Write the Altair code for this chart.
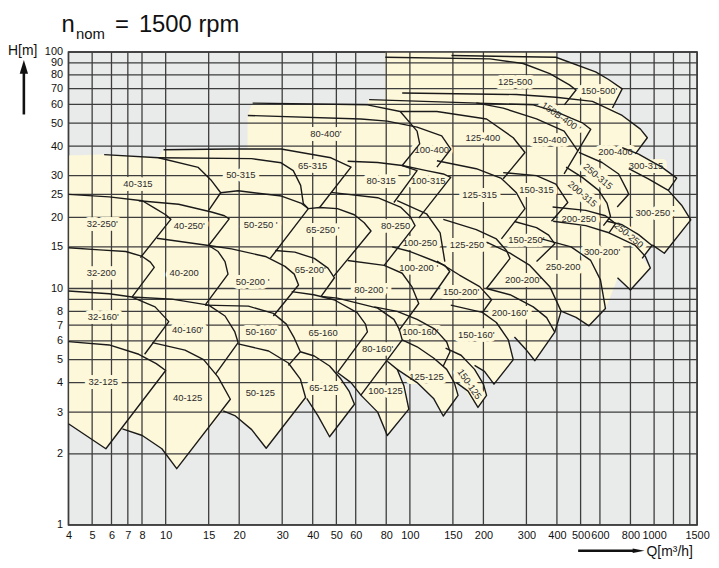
import altair as alt
import pandas as pd

FONT = "Liberation Sans"
GRAY = "#e9eaea"
YELLOW = "#fef8da"
GRID = "#3d3d3d"
INK = "#1a1a1a"

# ---------------- axes ----------------
x_ticks = [4, 5, 6, 7, 8, 10, 15, 20, 30, 40, 50, 60, 80, 100, 150, 200, 300, 400, 500, 600, 800, 1000, 1500]
x_grid = [4, 5, 6, 7, 8, 10, 15, 20, 30, 40, 50, 60, 80, 100, 150, 200, 300, 400, 500, 600, 800, 1000, 1200, 1400, 1500]
y_ticks = [1, 2, 3, 4, 5, 6, 7, 8, 10, 15, 20, 25, 30, 40, 50, 60, 70, 80, 90, 100]
y_grid = [1, 2, 3, 4, 5, 6, 7, 8, 9, 10, 15, 20, 25, 30, 40, 50, 60, 70, 80, 90, 100]

# ---------------- pump fields: (Q [m3/h], H [m]) along top curve -> apex -> tip (-> lower curve) ----------------
f_32_125 = [(4, 5.96), (5.87, 5.77), (7.76, 5.27), (9.15, 4.81), (10, 4.5), (5.69, 2.1), (4.72, 2.39), (4, 2.68)]
f_40_125 = [(8.82, 5.9), (12.0, 5.49), (14.3, 5.0), (16.4, 4.22), (18.4, 3.4), (11.1, 1.73), (9.65, 2.1), (8.02, 2.39), (6.65, 2.55)]
f_50_125 = [(19.8, 5.83), (26.4, 5.44), (31.8, 4.84), (35.6, 4.14), (37.4, 3.46), (25.8, 2.11), (22.5, 2.53), (19.3, 2.89), (17.2, 3.04)]
f_65_125 = [(35.6, 5.4), (40.6, 5.18), (46.9, 4.7), (52.2, 4.14), (56.5, 3.66), (59.3, 3.24), (46.9, 2.36), (42, 2.9), (37.8, 3.43)]
f_100_125 = [(80.8, 4.92), (88.7, 4.55), (94.5, 3.88), (99, 3.09), (80.8, 2.39), (73.8, 3.0), (63, 3.54)]
f_125_125 = [(93, 6.06), (107, 5.67), (125, 5.08), (141.5, 4.55), (152, 4.0), (157.5, 3.53), (137, 2.89), (125, 3.43), (107, 4.0), (88.7, 4.55)]
f_150_125 = [(140, 5.6), (162, 5.22), (184, 4.55), (200, 3.94), (206, 3.53), (190, 3.14), (173, 3.68), (155, 4.0)]

f_32_160 = [(4, 9.76), (5.87, 9.5), (7.28, 9.2), (9.05, 8.36), (10.3, 7.24), (8.2, 5.27)]
f_40_160 = [(7.28, 9.2), (10.6, 9.02), (15, 8.5), (17.5, 7.65), (19.2, 6.55), (19.8, 5.9), (16, 4.34)]
f_50_160 = [(14.5, 8.5), (21.8, 8.42), (27.6, 7.85), (31.2, 7.07), (33.6, 6.18), (35.6, 5.4), (31.8, 4.73)]
f_65_160 = [(32.8, 9.7), (40.4, 9.41), (48.9, 8.96), (60.8, 7.9), (65.8, 7.07), (67, 6.55), (50.5, 4.41)]
f_80_160 = [(43.3, 9.26), (50.5, 9.1), (73.8, 8.26), (86, 7.4), (90.4, 6.73), (93, 6.06), (63, 3.54), (57.4, 4.0), (50.5, 4.41)]
f_100_160 = [(71.5, 8.36), (88.7, 8.0), (107, 7.4), (126.6, 6.73), (141.5, 5.94), (146, 5.4), (137, 4.7)]
f_150_160 = [(147, 8.5), (198, 7.92), (226, 7.18), (253, 6.06), (265, 5.0), (221, 3.94), (202, 4.46), (184, 4.73)]
f_200_160 = [(206, 10), (257, 9.41), (320, 8.36), (363, 7.53), (392, 6.54), (325, 4.95), (300, 5.49), (268, 6.24)]

f_32_200 = [(4, 14.86), (5.36, 14.57), (6.87, 14.33), (8.02, 13.66), (8.66, 12.92), (8.98, 12.28), (7.28, 9.2)]
f_40_200 = [(9.2, 16.3), (15, 15.2), (16.4, 14.33), (17.5, 13.0), (18, 11.5), (14.5, 8.5)]
f_50_200 = [(15, 15.2), (18.6, 14.7), (25.6, 13.66), (30.8, 12.4), (33.6, 11.5), (35, 10.35), (27.6, 7.65)]
f_65_200 = [(28.1, 14.47), (33.8, 14.24), (40.6, 13.4), (46.2, 12.2), (49.1, 11.1), (43.3, 9.26)]
f_80_200 = [(55.6, 13.14), (78.5, 12.52), (93, 11.6), (102, 10.15), (108.7, 8.64), (90.1, 6.63)]
f_100_200 = [(84.6, 15), (100.3, 14.33), (125, 13.1), (139, 12.52), (145.6, 11.8), (121, 8.96)]
f_150_200 = [(129, 13.05), (159.5, 11.4), (193, 10.18), (216, 8.96), (198, 7.9)]
f_200_200 = [(206, 15.7), (257, 14.1), (310, 12.52), (374, 10.18), (416, 8.02), (392, 6.54)]
f_250_200 = [(346, 16.2), (457, 15), (550, 13.14), (603, 10.88), (632, 8.23), (541, 6.95), (479, 7.55), (416, 8.02)]
f_300_200 = [(386, 19.25), (525, 18.45), (653, 17.2), (838, 15.2), (921, 13.66), (965, 12.2), (800, 9.86), (708, 11.1)]

f_32_250 = [(4, 25), (5.87, 24.4), (8.02, 23.5), (9.05, 21.8), (10, 20.5), (10.5, 19.6), (7.88, 13.5)]
f_40_250 = [(7.76, 23.5), (11.3, 22.7), (15.4, 21.05), (17.4, 20.3), (18.2, 19.7), (15, 15.2)]
f_50_250 = [(16.8, 25.4), (19.8, 25.9), (29.8, 24.6), (36, 22.9), (38.4, 21.75), (26.8, 13.4)]
f_65_250 = [(38.4, 21.75), (42.7, 22), (50.5, 21.75), (59.2, 20.5), (65, 18.96), (69.3, 17.5), (48.9, 11.3)]
f_80_250 = [(47.5, 25.5), (73.8, 24.2), (91.5, 22.1), (100.3, 20.15), (105, 18.45), (78.5, 12.52)]
f_100_250 = [(88.7, 23.5), (117, 20.7), (133, 17.2), (139, 13)]
f_125_250 = [(137, 19.6), (187, 17.75), (226, 16.2), (249, 14.43), (257, 13.4), (206, 10)]
f_150_250 = [(268, 19.2), (330, 18.1), (370, 16.8), (392, 15.44), (330, 13)]
f_200_250 = [(384, 22.1), (525, 21.4), (632, 20.3), (695, 18.8), (653, 17.2)]
f_250_250 = [(642, 19.25), (740, 18.6), (864, 16.9), (980, 15.2), (893, 13.4)]
f_300_250 = [(787, 32.1), (947, 29.1), (1143, 26), (1296, 22.5), (1413, 19.5), (1101, 14.1), (983, 15.3)]

f_40_315 = [(5.6, 36.8), (9.35, 35.7), (13.6, 32.5), (15.4, 28.6), (16.8, 25.4), (15, 21.4)]
f_50_315 = [(9.35, 35.7), (22.5, 35.4), (29.7, 34), (33.3, 31.5), (35.7, 27.3), (36.6, 22.9), (38.4, 21.75)]
f_65_315 = [(9.8, 38.6), (18.5, 38.9), (29.7, 38.9), (47.5, 35.7), (57.4, 32.6), (42.7, 22)]
f_80_315 = [(55.6, 34.5), (73.8, 34.1), (93, 33.1), (107, 31.5), (86, 23.1)]
f_100_315 = [(93, 33.1), (117, 31.5), (137, 30.5), (147, 29.5), (108.7, 19.85)]
f_125_315 = [(129, 34.7), (187, 32.1), (237, 29.2), (273, 25.4), (296, 21.75), (237, 16.2)]
f_150_315 = [(241, 30.9), (330, 30), (396, 27.6), (443, 23.1), (380, 19.25)]
f_200_315 = [(436, 32.6), (508, 29.5), (593, 26), (642, 22.9), (663, 20.15), (620, 18.45)]
f_250_315 = [(492, 37.6), (612, 34.1), (716, 30.5), (775, 26), (787, 25.05), (706, 22.1)]
f_300_315 = [(740, 39.4), (864, 37), (1075, 32.6), (1237, 29.3), (1143, 26)]

f_80_400 = [(22.7, 60.8), (67, 59.8), (91.3, 56), (107, 46.3), (109.7, 40.9), (93, 33.1)]
f_100_400 = [(21.7, 53.9), (63, 52.1), (80.8, 51), (107, 48.1), (135, 44.2), (147, 38.8), (129, 32.6)]
f_125_400 = [(91.3, 56), (129, 56), (206, 52.1), (265, 43.4), (296, 37.6), (241, 29.1)]
f_150_400 = [(187, 60.9), (241, 57.9), (330, 52.1), (428, 46.3), (487, 38.2), (428, 30.5)]
f_150b_400 = [(68.1, 62.9), (320, 59.8), (396, 56), (457, 52.5), (508, 50.2), (550, 47.1), (487, 38.2)]
f_200_400 = [(93, 67.1), (273, 66.1), (396, 64.4), (559, 61.8), (740, 53.9), (879, 47.2), (938, 43.4), (838, 37.1)]
f_125_500 = [(79.3, 95), (213, 93.5), (291, 89.4), (374, 81), (450, 72.6), (479, 69.1), (429, 59.8)]
f_150_500 = [(148, 96.6), (396, 95), (576, 82.4), (651, 76.5), (740, 69.8), (675, 58)]

# outer boundary of the whole covered (yellow) area
envelope = [
    (4, 36.4), (5.6, 36.8), (9.35, 35.7), (9.8, 38.6), (21.7, 38.9), (21.7, 53.9), (22.7, 60.8), (67, 59.8),
    (68.1, 62.9), (79.5, 62.7), (79.5, 100), (396, 100), (396, 95), (576, 82.4), (651, 76.5), (740, 69.8), (675, 58),
    (740, 53.9), (879, 47.2), (938, 43.4), (838, 37.1), (864, 37), (1075, 32.6), (1237, 29.3), (1143, 26),
    (1296, 22.5), (1413, 19.5), (1101, 14.1), (983, 15.3), (980, 15.2), (893, 13.4), (965, 12.2), (800, 9.86),
    (708, 11.1), (632, 8.23), (541, 6.95), (479, 7.55), (416, 8.02), (392, 6.54), (325, 4.95), (300, 5.49),
    (268, 6.24), (253, 6.06), (265, 5.0), (221, 3.94), (202, 4.46), (184, 4.73), (200, 3.94), (206, 3.53),
    (190, 3.14), (173, 3.68), (155, 4.0), (157.5, 3.53), (137, 2.89), (125, 3.43), (107, 4.0), (88.7, 4.55),
    (94.5, 3.88), (99, 3.09), (80.8, 2.39), (73.8, 3.0), (63, 3.54), (57.4, 4.0), (50.5, 4.41), (52.2, 4.14),
    (56.5, 3.66), (59.3, 3.24), (46.9, 2.36), (42, 2.9), (37.8, 3.43), (25.8, 2.11), (22.5, 2.53), (19.3, 2.89),
    (17.2, 3.04), (11.1, 1.73), (9.65, 2.1), (8.02, 2.39), (6.65, 2.55), (5.69, 2.1), (4.72, 2.39), (4, 2.68),
]

field_names = [
    "32-125", "40-125", "50-125", "65-125", "100-125", "125-125", "150-125",
    "32-160", "40-160", "50-160", "65-160", "80-160", "100-160", "150-160", "200-160",
    "32-200", "40-200", "50-200", "65-200", "80-200", "100-200", "150-200", "200-200", "250-200", "300-200",
    "32-250", "40-250", "50-250", "65-250", "80-250", "100-250", "125-250", "150-250", "200-250", "250-250", "300-250",
    "40-315", "50-315", "65-315", "80-315", "100-315", "125-315", "150-315", "200-315", "250-315", "300-315",
    "80-400", "100-400", "125-400", "150-400", "150B-400", "200-400", "125-500", "150-500",
]
field_points = [
    f_32_125, f_40_125, f_50_125, f_65_125, f_100_125, f_125_125, f_150_125,
    f_32_160, f_40_160, f_50_160, f_65_160, f_80_160, f_100_160, f_150_160, f_200_160,
    f_32_200, f_40_200, f_50_200, f_65_200, f_80_200, f_100_200, f_150_200, f_200_200, f_250_200, f_300_200,
    f_32_250, f_40_250, f_50_250, f_65_250, f_80_250, f_100_250, f_125_250, f_150_250, f_200_250, f_250_250, f_300_250,
    f_40_315, f_50_315, f_65_315, f_80_315, f_100_315, f_125_315, f_150_315, f_200_315, f_250_315, f_300_315,
    f_80_400, f_100_400, f_125_400, f_150_400, f_150b_400, f_200_400, f_125_500, f_150_500,
]

# ---------------- field labels ----------------
label_text = [
    "32-125", "40-125", "50-125", "65-125", "100-125", "125-125", "150-125",
    "32-160'", "40-160'", "50-160'", "65-160", "80-160'", "100-160'", "150-160'", "200-160'",
    "32-200", "40-200", "50-200 '", "65-200'", "80-200 '", "100-200 '", "150-200'", "200-200'", "250-200", "300-200'",
    "32-250'", "40-250'", "50-250 '", "65-250 '", "80-250", "100-250", "125-250 '", "150-250'", "200-250", "250-250", "300-250 '",
    "40-315", "50-315", "65-315", "80-315", "100-315", "125-315", "150-315", "200-315", "250-315", "300-315",
    "80-400'", "100-400", "125-400", "150-400", "150B-400 '", "200-400", "125-500", "150-500'",
]
label_q = [
    5.55, 12.3, 24.4, 44.4, 79.5, 117, 175,
    5.55, 12.3, 24.6, 44.1, 73.8, 110.5, 187, 257,
    5.45, 11.9, 22.7, 39.1, 69.3, 108.7, 162, 291, 424, 612,
    5.5, 12.5, 24.5, 44, 87.4, 110, 175, 300, 492, 787, 1009,
    7.7, 20.3, 40, 76.3, 119, 193, 330, 508, 589, 927,
    45.3, 123, 199, 374, 416, 695, 270, 595,
]
label_h = [
    4.02, 3.43, 3.6, 3.8, 3.7, 4.24, 3.94,
    7.55, 6.65, 6.55, 6.5, 5.55, 6.55, 6.36, 7.85,
    11.6, 11.6, 10.7, 12.0, 9.86, 12.2, 9.7, 10.9, 12.3, 14.3,
    18.8, 18.45, 18.6, 17.6, 18.45, 15.6, 15.3, 16.0, 19.7, 16.8, 20.9,
    27.7, 30.3, 32.8, 28.4, 28.6, 24.9, 26.2, 25.05, 29.7, 32.8,
    45.2, 38.5, 43.4, 42.4, 53, 37.6, 75, 68.6,
]
label_angle = [
    0, 0, 0, 0, 0, 0, 55,
    0, 0, 0, 0, 0, 0, 0, 0,
    0, 0, 0, 0, 0, 0, 0, 0, 0, 0,
    0, 0, 0, 0, 0, 0, 0, 0, 0, 40, 0,
    0, 0, 0, 0, 0, 0, 0, 40, 40, 0,
    0, 0, 0, 0, 35, 0, 0, 0,
]

# ---------------- build tables ----------------
rows = []
for name, pts in zip(field_names, field_points):
    for i, (q, h) in enumerate(pts):
        rows.append({"pump": name, "i": i, "q": q, "h": h})
out_df = pd.DataFrame(rows)
env_df = pd.DataFrame({"i": list(range(len(envelope))),
                       "q": [p[0] for p in envelope], "h": [p[1] for p in envelope]})
lab_df = pd.DataFrame({"txt": label_text, "q": label_q, "h": label_h, "ang": label_angle})
xg_df = pd.DataFrame({"q": x_grid})
yg_df = pd.DataFrame({"h": y_grid})
one = pd.DataFrame({"t": ["x"]})

W, H = 634, 477
xs = alt.Scale(type="log", domain=[4, 1500], nice=False)
ys = alt.Scale(type="log", domain=[1, 100], nice=False)
x_axis = alt.Axis(values=x_ticks, format="d", title=None, grid=False, ticks=False, tickSize=0, domain=False,
                  labelFont=FONT, labelFontSize=11, labelColor="#111111", labelPadding=5,
                  labelFlush=False, labelOverlap=False)
y_axis = alt.Axis(values=y_ticks, format="d", title=None, grid=False, ticks=False, tickSize=0, domain=False,
                  labelFont=FONT, labelFontSize=11, labelColor="#111111", labelPadding=6,
                  labelFlush=False, labelOverlap=False)
X = alt.X("q:Q", scale=xs, axis=x_axis)
Y = alt.Y("h:Q", scale=ys, axis=y_axis)

fill = alt.Chart(env_df).mark_line(fill=YELLOW, stroke=YELLOW, strokeWidth=0.6).encode(
    x=X, y=Y, order=alt.Order("i:Q"))
vgrid = alt.Chart(xg_df).mark_rule(color=GRID, strokeWidth=1.3).encode(x=X)
hgrid = alt.Chart(yg_df).mark_rule(color=GRID, strokeWidth=1.3).encode(y=Y)
halo = alt.Chart(lab_df).mark_text(font=FONT, fontSize=9.5, fill=YELLOW, stroke=YELLOW, strokeWidth=8,
                                   strokeJoin="round").encode(
    x=X, y=Y, text="txt:N", angle=alt.Angle("ang:Q", scale=None))
outline = alt.Chart(out_df).mark_line(color=INK, strokeWidth=1.4, strokeJoin="round").encode(
    x=X, y=Y, detail="pump:N", order=alt.Order("i:Q"))
labels = alt.Chart(lab_df).mark_text(font=FONT, fontSize=9.5, color="#2a2a2a").encode(
    x=X, y=Y, text="txt:N", angle=alt.Angle("ang:Q", scale=None))

# ---------------- title and axis captions ----------------
def title_piece(txt, size, x, y):
    return alt.Chart(one).mark_text(text=txt, font=FONT, fontSize=size, align="left", baseline="alphabetic",
                                    color="#111111").encode(x=alt.value(x), y=alt.value(y))

t_n = title_piece("n", 24, -7, -20.5)
t_nom = title_piece("nom", 15, 7.5, -13)
t_eq = title_piece("=", 24, 47, -20.5)
t_num = title_piece("1500", 24, 71, -20.5)
t_rpm = title_piece("rpm", 24, 131, -20.5)

h_cap = alt.Chart(one).mark_text(text="H[m]", font=FONT, fontSize=14, align="left", baseline="alphabetic",
                                 color="#111111").encode(x=alt.value(-61), y=alt.value(3))
h_shaft = alt.Chart(one).mark_rule(color="#111111", strokeWidth=2.6).encode(
    x=alt.value(-45), y=alt.value(21), y2=alt.value(63))
h_head = alt.Chart(one).mark_point(shape="M-0.6,1L0,-1L0.6,1Z", filled=True, size=196, color="#111111",
                                   opacity=1, strokeWidth=0).encode(x=alt.value(-45), y=alt.value(15))
q_shaft = alt.Chart(one).mark_rule(color="#111111", strokeWidth=2.6).encode(
    x=alt.value(514), x2=alt.value(571), y=alt.value(503))
q_head = alt.Chart(one).mark_point(shape="M-1,-0.36L1,0L-1,0.36Z", filled=True, size=144, color="#111111",
                                   opacity=1, strokeWidth=0).encode(x=alt.value(575), y=alt.value(503))
q_cap = alt.Chart(one).mark_text(text="Q[m³/h]", font=FONT, fontSize=14, align="left", baseline="middle",
                                 color="#111111").encode(x=alt.value(583), y=alt.value(504))

chart = alt.layer(
    fill, vgrid, hgrid, halo, outline, labels,
    t_n, t_nom, t_eq, t_num, t_rpm, h_cap, h_shaft, h_head, q_shaft, q_head, q_cap,
).properties(
    width=W, height=H,
    autosize=alt.AutoSizeParams(type="none"),
    padding={"left": 61, "top": 42, "right": 14, "bottom": 38},
).configure_view(
    fill=GRAY, stroke="#2a2a2a", strokeWidth=1.5
)

chart.save("out.html", embed_options={"renderer": "svg", "actions": False})
